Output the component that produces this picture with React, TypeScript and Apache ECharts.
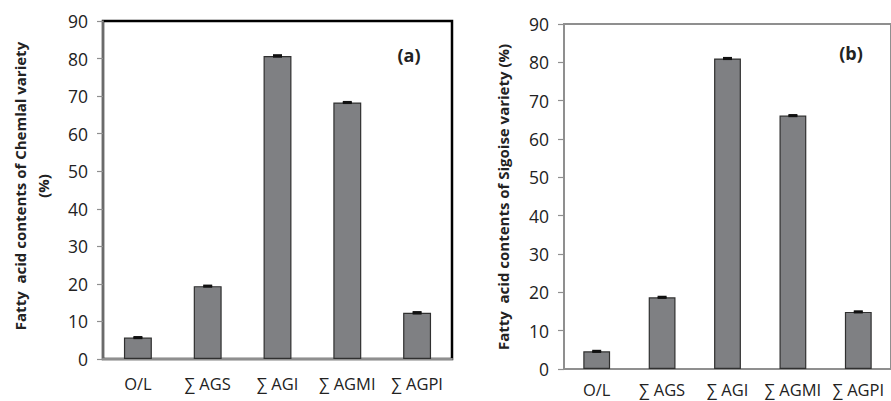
import React, { useEffect, useRef } from "react";
import * as echarts from "echarts";

const categories = ["O/L", "∑ AGS", "∑ AGI", "∑ AGMI", "∑ AGPI"];
const chemlalValues = [5.7, 19.4, 80.7, 68.3, 12.3];
const chemlalErrors = [0.15, 0.15, 0.2, 0.15, 0.2];
const sigoiseValues = [4.6, 18.7, 81.0, 66.1, 14.9];
const sigoiseErrors = [0.15, 0.15, 0.15, 0.15, 0.15];
const yMin = 0;
const yMax = 90;
const yInterval = 10;

const tickFont = "'Open Sans', sans-serif";
const titleFont = "'Open Sans', sans-serif";

function errorSeries(xAxisIndex: number, values: number[], errors: number[]) {
  return {
    type: "custom",
    xAxisIndex,
    yAxisIndex: xAxisIndex,
    z: 5,
    data: values.map((v, i) => [i, v, errors[i]]),
    renderItem: (params: any, api: any) => {
      const x = api.value(0);
      const v = api.value(1);
      const e = api.value(2);
      const top = api.coord([x, v + e]);
      const bot = api.coord([x, v - e]);
      const hw = 4.5;
      const style = { stroke: "#111", lineWidth: 2 };
      return {
        type: "group",
        children: [
          { type: "line", shape: { x1: top[0], y1: top[1], x2: bot[0], y2: bot[1] }, style },
          { type: "line", shape: { x1: top[0] - hw, y1: top[1], x2: top[0] + hw, y2: top[1] }, style },
          { type: "line", shape: { x1: bot[0] - hw, y1: bot[1], x2: bot[0] + hw, y2: bot[1] }, style },
        ],
      };
    },
  };
}

export default function App() {
  const ref = useRef<HTMLDivElement>(null);
  useEffect(() => {
    if (!ref.current) return;
    const chart = echarts.init(ref.current, null, { renderer: "svg" });
    const yAxisCommon = {
      type: "value",
      min: yMin,
      max: yMax,
      interval: yInterval,
      splitLine: { show: false },
      axisLine: { show: true, lineStyle: { color: "#8f8f8f", width: 1.5 } },
      axisTick: { show: true, length: 6, lineStyle: { color: "#8f8f8f", width: 1.2 } },
      axisLabel: { color: "#222", fontFamily: tickFont, fontSize: 17.5, margin: 15 },
    };
    const xAxisCommon = {
      type: "category",
      data: categories,
      axisTick: { show: false },
      axisLine: { show: true, lineStyle: { color: "#8f8f8f", width: 2 } },
      axisLabel: { color: "#222", fontFamily: tickFont, fontSize: 16.5, interval: 0 },
    };
    const barStyle = { color: "#7f8083", borderColor: "#303030", borderWidth: 1.2 };
    chart.setOption({
      animation: false,
      backgroundColor: "#ffffff",
      grid: [
        { left: 103, top: 21, width: 349, height: 338, show: true, borderColor: "#000", borderWidth: 2.5, backgroundColor: "transparent" },
        { left: 564, top: 24, width: 329, height: 345, show: true, borderColor: "#8f8f8f", borderWidth: 2, backgroundColor: "transparent" },
      ],
      xAxis: [
        { ...xAxisCommon, gridIndex: 0, axisLabel: { ...xAxisCommon.axisLabel, margin: 16 } },
        { ...xAxisCommon, gridIndex: 1, axisLabel: { ...xAxisCommon.axisLabel, margin: 12 } },
      ],
      yAxis: [
        { ...yAxisCommon, gridIndex: 0 },
        { ...yAxisCommon, gridIndex: 1 },
      ],
      series: [
        { type: "bar", xAxisIndex: 0, yAxisIndex: 0, data: chemlalValues, barWidth: "40%", itemStyle: barStyle },
        { type: "bar", xAxisIndex: 1, yAxisIndex: 1, data: sigoiseValues, barWidth: "41%", itemStyle: barStyle },
        errorSeries(0, chemlalValues, chemlalErrors),
        errorSeries(1, sigoiseValues, sigoiseErrors),
      ],
      graphic: [
        {
          type: "text", x: 20, y: 186, rotation: Math.PI / 2,
          style: { text: "Fatty  acid contents of Chemlal variety", fontFamily: titleFont, fontWeight: "bold", fontSize: 15, fill: "#222", align: "center", verticalAlign: "middle" },
        },
        {
          type: "text", x: 43, y: 186, rotation: Math.PI / 2,
          style: { text: "(%)", fontFamily: titleFont, fontWeight: "bold", fontSize: 15, fill: "#222", align: "center", verticalAlign: "middle" },
        },
        {
          type: "text", x: 503, y: 197, rotation: Math.PI / 2,
          style: { text: "Fatty  acid contents of Sigoise variety (%)", fontFamily: titleFont, fontWeight: "bold", fontSize: 15, fill: "#222", align: "center", verticalAlign: "middle" },
        },
        {
          type: "text", x: 409, y: 55,
          style: { text: "(a)", fontFamily: titleFont, fontWeight: "bold", fontSize: 18, fill: "#222", align: "center", verticalAlign: "middle" },
        },
        {
          type: "text", x: 851, y: 53,
          style: { text: "(b)", fontFamily: titleFont, fontWeight: "bold", fontSize: 18, fill: "#222", align: "center", verticalAlign: "middle" },
        },
      ],
    });
    return () => chart.dispose();
  }, []);
  return <div ref={ref} style={{ position: "absolute", left: 0, top: 0, width: 891, height: 401 }} />;
}
